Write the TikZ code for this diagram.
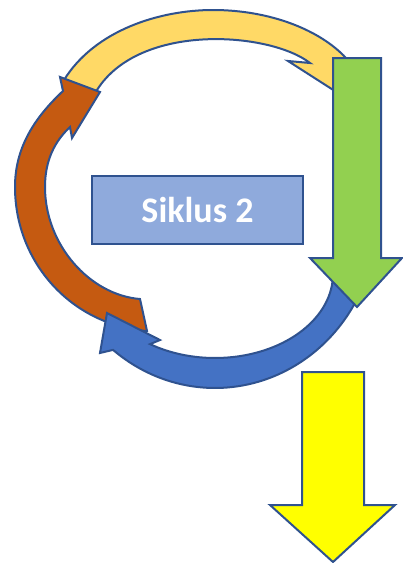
\documentclass[tikz,border=0pt]{standalone}
\usepackage{fontspec}
\setmainfont{Carlito}
\definecolor{edgeblue}{HTML}{2F528F}
\definecolor{arcyellow}{HTML}{FFD966}
\definecolor{arcbrown}{HTML}{C55A11}
\definecolor{arcblue}{HTML}{4472C4}
\definecolor{arrgreen}{HTML}{92D050}
\definecolor{boxblue}{HTML}{8FAADC}
\definecolor{arryellow}{HTML}{FFFF00}
\begin{document}
\begin{tikzpicture}[x=1pt,y=-1pt,
  shp/.style={draw=edgeblue, line width=2pt, line join=miter}]
\useasboundingbox (0,0) rectangle (403,563);
% yellow arc
\path[shp, fill=arcyellow] (64,80) .. controls (95,30) and (160,10) .. (213,10)
  .. controls (270,10) and (320,30) .. (346,58)
  -- (362,66) -- (352,102) -- (288,61) -- (310,63)
  .. controls (270,32) and (140,22) .. (97,90)
  -- (93,97) -- cycle;
% brown arc
\path[shp, fill=arcbrown] (147,331) .. controls (71,325) and (15,262) .. (15,187)
  .. controls (15,150) and (32,120) .. (63,91)
  -- (60,77) -- (100,92) -- (72,138) -- (70,127)
  .. controls (55,141) and (45,160) .. (45,187)
  .. controls (45,245) and (90,295) .. (140,299)
  -- cycle;
% blue arc
\path[shp, fill=arcblue] plot[domain=0:128.4, samples=50, variable=\t] ({215+118*cos(365-\t)}, {274-84*sin(365-\t)})
  -- (160,340) -- (107,313) -- (100,353)
  -- plot[domain=231:338, samples=60, variable=\t] ({215+162*cos(\t)}, {217-171*sin(\t)})
  -- cycle;
% green arrow
\path[shp, fill=arrgreen] (333,58) -- (381,58) -- (381,258) -- (402,258) -- (357,307) -- (310,258) -- (333,258) -- cycle;
% box
\node[shp, fill=boxblue, minimum width=211pt, minimum height=68pt, inner sep=0pt,
  text=white, font=\fontsize{36}{40}\bfseries\selectfont] (box) at (197.5,210) {Siklus 2};
% yellow down arrow
\path[shp, fill=arryellow] (302,372) -- (364,372) -- (364,505) -- (395,505) -- (333,562) -- (270,505) -- (302,505) -- cycle;
\end{tikzpicture}
\end{document}
